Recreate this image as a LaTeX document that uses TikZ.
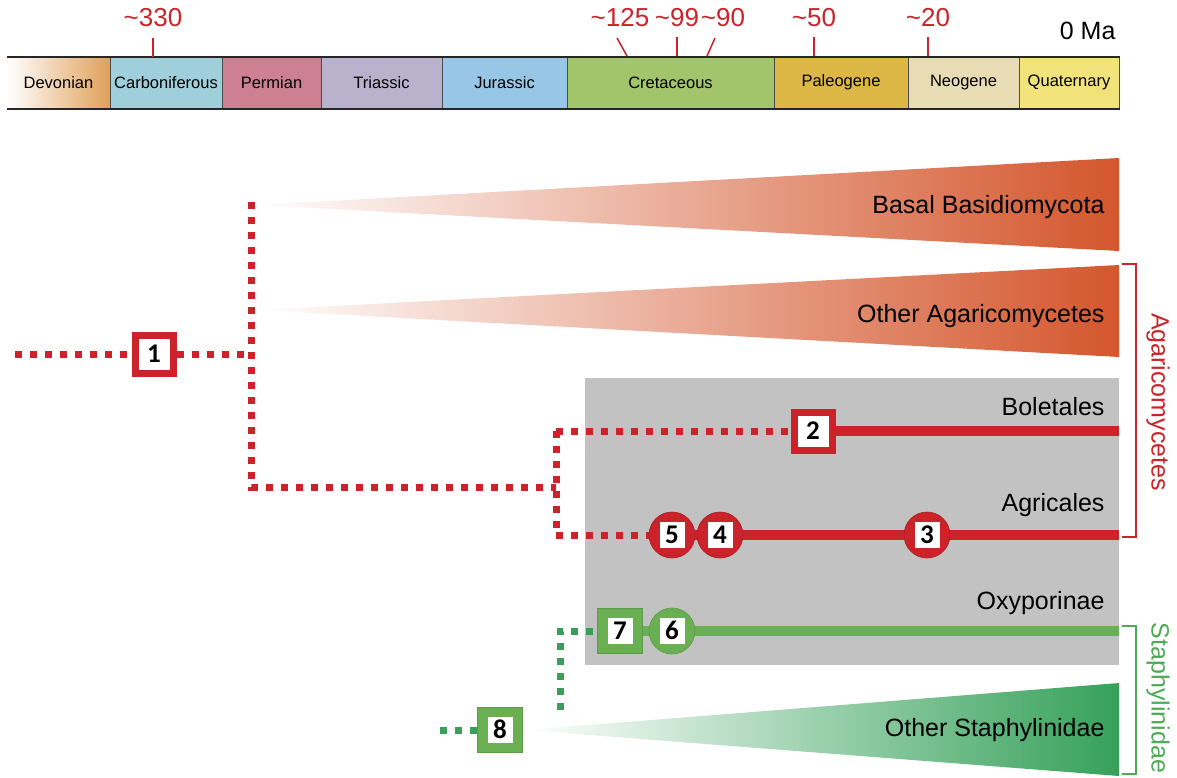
\documentclass[tikz,border=0pt]{standalone}
\usepackage{fontspec}
\setmainfont{Liberation Sans}
\newfontfamily\numfont{Carlito}
\usetikzlibrary{positioning}

\definecolor{devcol}{HTML}{E0A05A}
\definecolor{carbcol}{HTML}{9ECFDA}
\definecolor{permcol}{HTML}{CD8092}
\definecolor{tricol}{HTML}{B9B2CC}
\definecolor{jurcol}{HTML}{97C6E6}
\definecolor{cretcol}{HTML}{A2C46A}
\definecolor{paleocol}{HTML}{DDB746}
\definecolor{neocol}{HTML}{E8DCB4}
\definecolor{quatcol}{HTML}{F1E37A}
\definecolor{agared}{HTML}{CC2229}
\definecolor{darkred}{HTML}{A81C22}
\definecolor{wedgered}{HTML}{D4562D}
\definecolor{staphgreen}{HTML}{6BAF53}
\definecolor{darkgreen}{HTML}{5A9A48}
\definecolor{dotgreen}{HTML}{3A9E5A}
\definecolor{wedgegreen}{HTML}{36A15A}
\definecolor{labelgreen}{HTML}{4DAA55}
\definecolor{grayback}{HTML}{C2C2C2}

\newcommand{\inbox}[1]{{\setlength{\fboxsep}{0pt}\colorbox{white}{\makebox[25pt]{\rule[-5pt]{0pt}{26pt}#1}}}}

\pgfdeclarelayer{background}
\pgfdeclarelayer{lines}
\pgfsetlayers{background,lines,main}

\tikzset{
  period/.style={draw=black!70, line width=1pt, minimum height=51pt, inner sep=0pt,
    font=\fontsize{16.5}{18}\selectfont},
  agelabel/.style={text=agared, font=\fontsize{26}{28}\selectfont},
  tickline/.style={agared, line width=1.5pt},
  cladelabel/.style={anchor=east, font=\fontsize{25}{27}\selectfont},
  numfnt/.style={font=\numfont\bfseries\fontsize{27}{27}\selectfont},
  redsq/.style={numfnt, draw=agared, line width=7pt, fill=white, minimum size=38pt, inner sep=0pt},
  redcirc/.style={numfnt, circle, draw=darkred, line width=0.6pt, fill=agared, minimum size=46pt, inner sep=0pt},
  greensq/.style={numfnt, draw=darkgreen, line width=0.8pt, fill=staphgreen, minimum size=45pt, inner sep=0pt},
  greencirc/.style={numfnt, circle, draw=darkgreen, line width=0.6pt, fill=staphgreen, minimum size=46pt, inner sep=0pt},
  reddot/.style={agared, line width=7pt, dash pattern=on 7pt off 8pt},
  greendot/.style={dotgreen, line width=7pt, dash pattern=on 7pt off 8pt},
  redline/.style={agared, line width=10pt},
  greenline/.style={staphgreen, line width=10pt},
  bracket/.style={line width=2.5pt},
}

\begin{document}
\begin{tikzpicture}[x=1pt,y=-1pt]
\useasboundingbox (0,0) rectangle (1177,777);

%---------------------------------------------------
%time scale
\node[period, draw=none, left color=white, right color=devcol, minimum width=103pt] (dev) at (58.5,82.5) {Devonian};
\node[period, fill=carbcol, minimum width=112pt] (carb) at (166,82.5) {Carboniferous};
\node[period, fill=permcol, minimum width=99pt] (perm) at (271.5,82.5) {Permian};
\node[period, fill=tricol, minimum width=121pt] (tri) at (381.5,82.5) {Triassic};
\node[period, fill=jurcol, minimum width=125pt] (jur) at (504.5,82.5) {Jurassic};
\node[period, fill=cretcol, minimum width=207pt] (cret) at (670.5,82.5) {Cretaceous};
\node[period, fill=paleocol, minimum width=134pt] (paleo) at (841,82.5) {Paleogene};
\node[period, fill=neocol, minimum width=111pt] (neo) at (963.5,82.5) {Neogene};
\node[period, fill=quatcol, minimum width=100pt] (quat) at (1069,82.5) {Quaternary};
\draw[line width=2pt, black!85] (dev.north west) -- (quat.north east);
\draw[line width=2pt, black!85] (dev.south west) -- (quat.south east);

%ages
\node[agelabel] (a330) at (153,18) {\textasciitilde330};
\node[agelabel] (a125) at (620,18) {\textasciitilde125};
\node[agelabel] (a99) at (677,18) {\textasciitilde99};
\node[agelabel] (a90) at (723,18) {\textasciitilde90};
\node[agelabel] (a50) at (814,18) {\textasciitilde50};
\node[agelabel] (a20) at (928,18) {\textasciitilde20};
\node[font=\fontsize{25}{27}\selectfont, anchor=east] (a0) at (1119,31) {0 Ma};
\draw[tickline] (153,38) -- (153,57);
\draw[tickline] (617,38) -- (627,56);
\draw[tickline] (677,37) -- (677,56);
\draw[tickline] (715,38) -- (707,56);
\draw[tickline] (814,37) -- (814,56);
\draw[tickline] (928,37) -- (928,56);

%---------------------------------------------------
%clades
\begin{pgfonlayer}{background}
\fill[grayback] (585,378) rectangle (1119,665);
\shade[left color=white, right color=wedgered] (255,205) -- (1119,158) -- (1119,251) -- cycle;
\shade[left color=white, right color=wedgered] (255,310) -- (1119,265) -- (1119,357) -- cycle;
\shade[left color=white, right color=wedgegreen] (525,730) -- (1119,683) -- (1119,776) -- cycle;
\end{pgfonlayer}

\node[cladelabel] (basal) at (1108,207) {Basal Basidiomycota};
\node[cladelabel] (otheraga) at (1108,316) {Other Agaricomycetes};
\node[cladelabel] (boletales) at (1108,407) {Boletales};
\node[cladelabel] (agricales) at (1108,505) {Agricales};
\node[cladelabel] (oxyporinae) at (1108,603) {Oxyporinae};
\node[cladelabel] (otherstaph) at (1108,730) {Other Staphylinidae};

%brackets
\draw[bracket, agared] (1122,264) -- (1136,264) -- (1136,537) -- (1122,537);
\node[rotate=-90, text=agared, font=\fontsize{25}{27}\selectfont] (agaric) at (1158,402) {Agaricomycetes};
\draw[bracket, labelgreen] (1122,626) -- (1136,626) -- (1136,774) -- (1122,774);
\node[rotate=-90, text=labelgreen, font=\fontsize{25}{27}\selectfont] (staph) at (1158,698) {Staphylinidae};

%---------------------------------------------------
%markers
\node[redsq] (m1) at (154,354) {1};
\node[redsq] (m2) at (813,431) {2};
\node[redcirc] (m5) at (672,535) {\inbox{5}};
\node[redcirc] (m4) at (720,535) {\inbox{4}};
\node[redcirc] (m3) at (927,535) {\inbox{3}};
\node[greensq] (m7) at (620,631) {\inbox{7}};
\node[greencirc] (m6) at (672,631) {\inbox{6}};
\node[greensq] (m8) at (500,730) {\inbox{8}};

\coordinate (r0) at (15,354);
\coordinate (r1) at (251,354);
\coordinate (rtop) at (251,202);
\coordinate (rbot) at (251,487);
\coordinate (r2) at (556,487);
\coordinate (r2top) at (556,431);
\coordinate (r2bot) at (556,535);
\coordinate (rend2) at (1119,431);
\coordinate (rend4) at (1119,535);
\coordinate (g0) at (440,730);
\coordinate (g1) at (560,710);
\coordinate (gend) at (1119,631);

%branches
\begin{pgfonlayer}{lines}
\draw[reddot] (r0) -- (m1);
\draw[reddot] (m1) -- (r1);
\draw[reddot] (rtop) -- (rbot) -- (r2);
\draw[reddot] (r2top) -- (r2bot);
\draw[reddot] (r2top) -- (m2);
\draw[reddot] (r2bot) -- (m5);
\draw[redline] (m2) -- (rend2);
\draw[redline] (m5) -- (rend4);
\draw[greendot] (g0) -- (m8);
\draw[greendot] (g1) |- (m7);
\draw[greenline] (m7) -- (gend);
\end{pgfonlayer}

\end{tikzpicture}
\end{document}
